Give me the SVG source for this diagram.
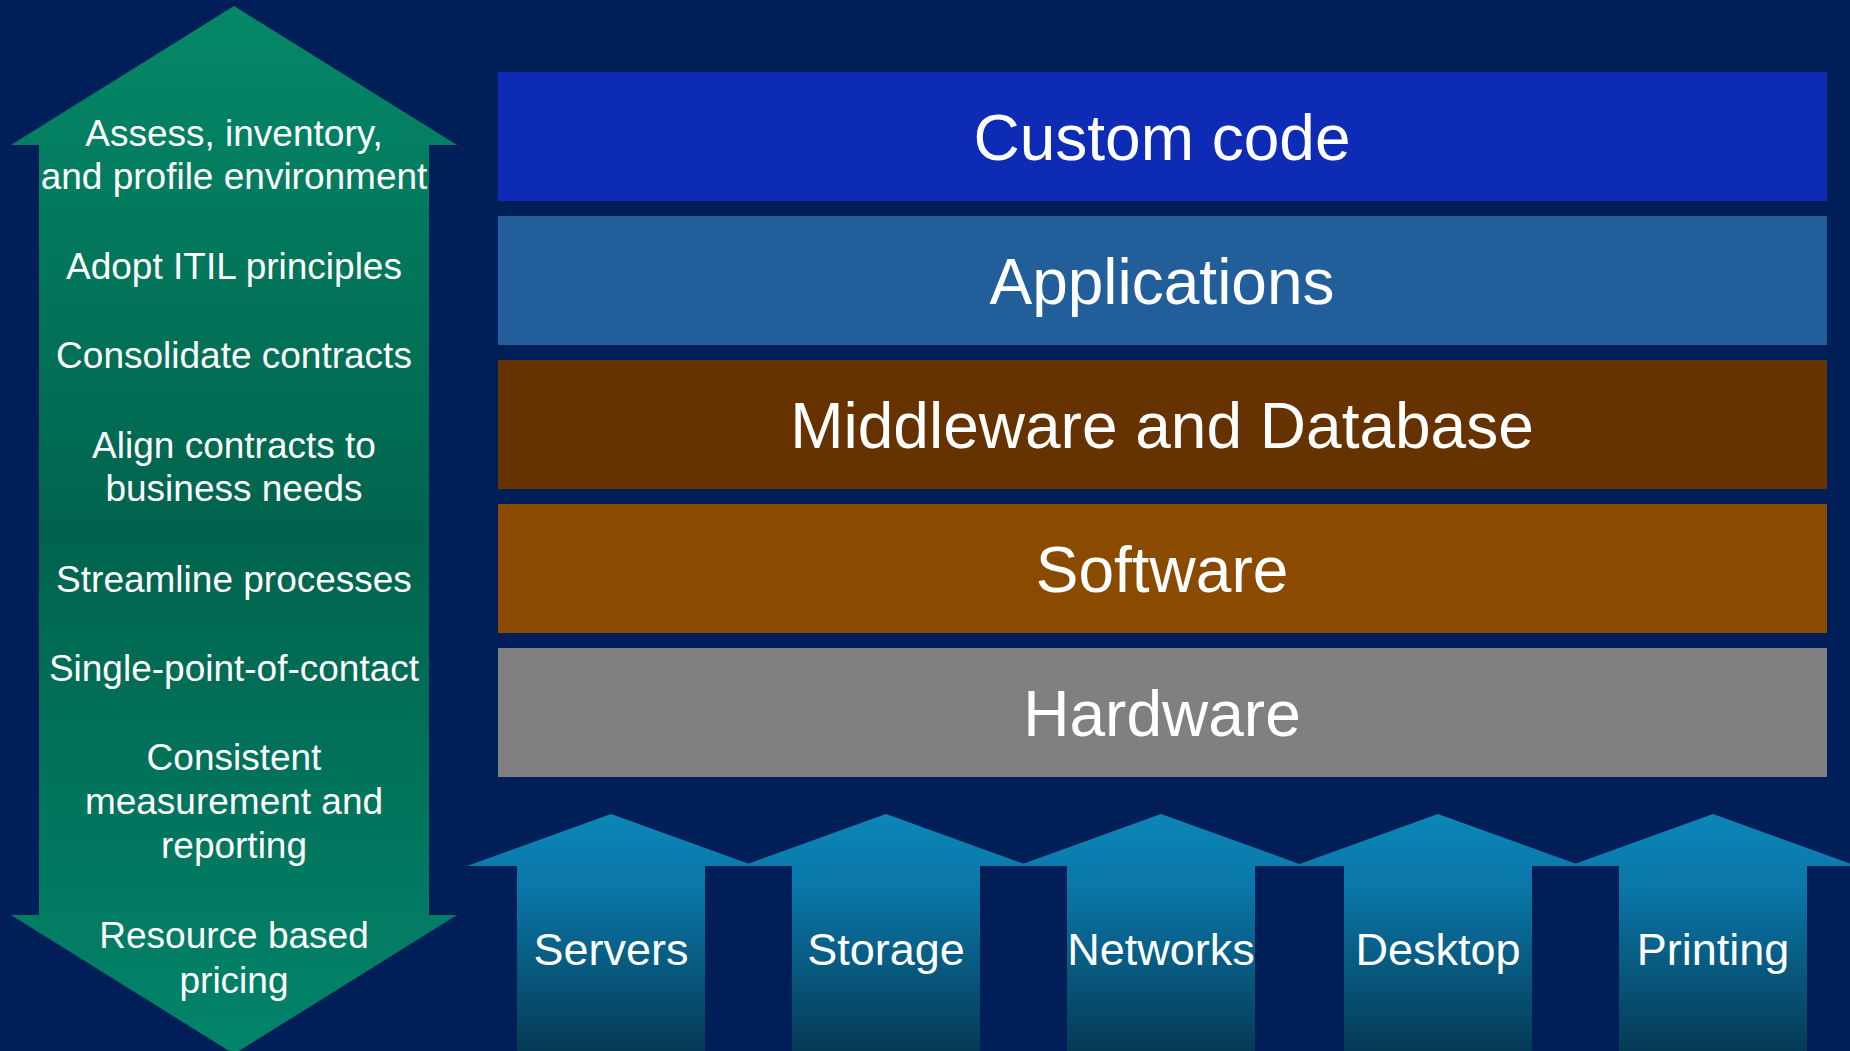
<svg xmlns="http://www.w3.org/2000/svg" width="1850" height="1051" viewBox="0 0 1850 1051">
  <style>
    .side { font-family: "Liberation Sans", Arial, sans-serif; font-size: 37px; fill: #ffffff; text-anchor: middle; }
    .layer-label { font-family: "Liberation Sans", Arial, sans-serif; font-size: 64px; fill: #ffffff; text-anchor: middle; }
    .pillar-label { font-family: "Liberation Sans", Arial, sans-serif; font-size: 45px; fill: #ffffff; text-anchor: middle; }
    .pillar { fill: url(#pillarFill); }
  </style>
  <defs>
    <linearGradient id="greenFill" gradientUnits="userSpaceOnUse" x1="0" y1="6" x2="0" y2="1054">
      <stop offset="0" stop-color="#048868"/>
      <stop offset="0.5" stop-color="#00634d"/>
      <stop offset="1" stop-color="#02846a"/>
    </linearGradient>
    <linearGradient id="pillarFill" gradientUnits="userSpaceOnUse" x1="0" y1="814" x2="0" y2="1051">
      <stop offset="0" stop-color="#0b86b6"/>
      <stop offset="0.3" stop-color="#0a78a9"/>
      <stop offset="1" stop-color="#053a55"/>
    </linearGradient>
  </defs>

  <!-- background -->
  <rect x="0" y="0" width="1850" height="1051" fill="#001e57"/>

  <!-- double-headed process arrow -->
  <g id="process-arrow">
    <polygon points="234,6 457,145 429,145 429,915 457,915 234,1054 11,915 39,915 39,145 11,145" fill="url(#greenFill)"/>
    <text class="side" x="234" y="146">Assess, inventory,</text>
    <text class="side" x="234" y="189">and profile environment</text>
    <text class="side" x="234" y="279">Adopt ITIL principles</text>
    <text class="side" x="234" y="368">Consolidate contracts</text>
    <text class="side" x="234" y="458">Align contracts to</text>
    <text class="side" x="234" y="501">business needs</text>
    <text class="side" x="234" y="592">Streamline processes</text>
    <text class="side" x="234" y="681">Single-point-of-contact</text>
    <text class="side" x="234" y="770">Consistent</text>
    <text class="side" x="234" y="814">measurement and</text>
    <text class="side" x="234" y="858">reporting</text>
    <text class="side" x="234" y="948">Resource based</text>
    <text class="side" x="234" y="993">pricing</text>
  </g>

  <!-- stacked layers -->
  <g id="layer-custom-code">
    <rect x="498" y="72" width="1329" height="129" fill="#0d2bb5"/>
    <text class="layer-label" x="1162" y="160">Custom code</text>
  </g>
  <g id="layer-applications">
    <rect x="498" y="216" width="1329" height="129" fill="#225f9a"/>
    <text class="layer-label" x="1162" y="304">Applications</text>
  </g>
  <g id="layer-middleware">
    <rect x="498" y="360" width="1329" height="129" fill="#663300"/>
    <text class="layer-label" x="1162" y="448">Middleware and Database</text>
  </g>
  <g id="layer-software">
    <rect x="498" y="504" width="1329" height="129" fill="#8a4b00"/>
    <text class="layer-label" x="1162" y="592">Software</text>
  </g>
  <g id="layer-hardware">
    <rect x="498" y="648" width="1329" height="129" fill="#808080"/>
    <text class="layer-label" x="1162" y="736">Hardware</text>
  </g>

  <!-- hardware pillars (upward arrows) -->
  <g id="pillar-servers">
    <polygon class="pillar" points="611,814 755,866 705,866 705,1051 517,1051 517,866 467,866"/>
    <text class="pillar-label" x="611" y="965">Servers</text>
  </g>
  <g id="pillar-storage">
    <polygon class="pillar" points="886,814 1030,866 980,866 980,1051 792,1051 792,866 742,866"/>
    <text class="pillar-label" x="886" y="965">Storage</text>
  </g>
  <g id="pillar-networks">
    <polygon class="pillar" points="1161,814 1305,866 1255,866 1255,1051 1067,1051 1067,866 1017,866"/>
    <text class="pillar-label" x="1161" y="965">Networks</text>
  </g>
  <g id="pillar-desktop">
    <polygon class="pillar" points="1438,814 1582,866 1532,866 1532,1051 1344,1051 1344,866 1294,866"/>
    <text class="pillar-label" x="1438" y="965">Desktop</text>
  </g>
  <g id="pillar-printing">
    <polygon class="pillar" points="1713,814 1857,866 1807,866 1807,1051 1619,1051 1619,866 1569,866"/>
    <text class="pillar-label" x="1713" y="965">Printing</text>
  </g>

  <!-- no connectors between nodes -->
  <g id="connectors"/>
</svg>
